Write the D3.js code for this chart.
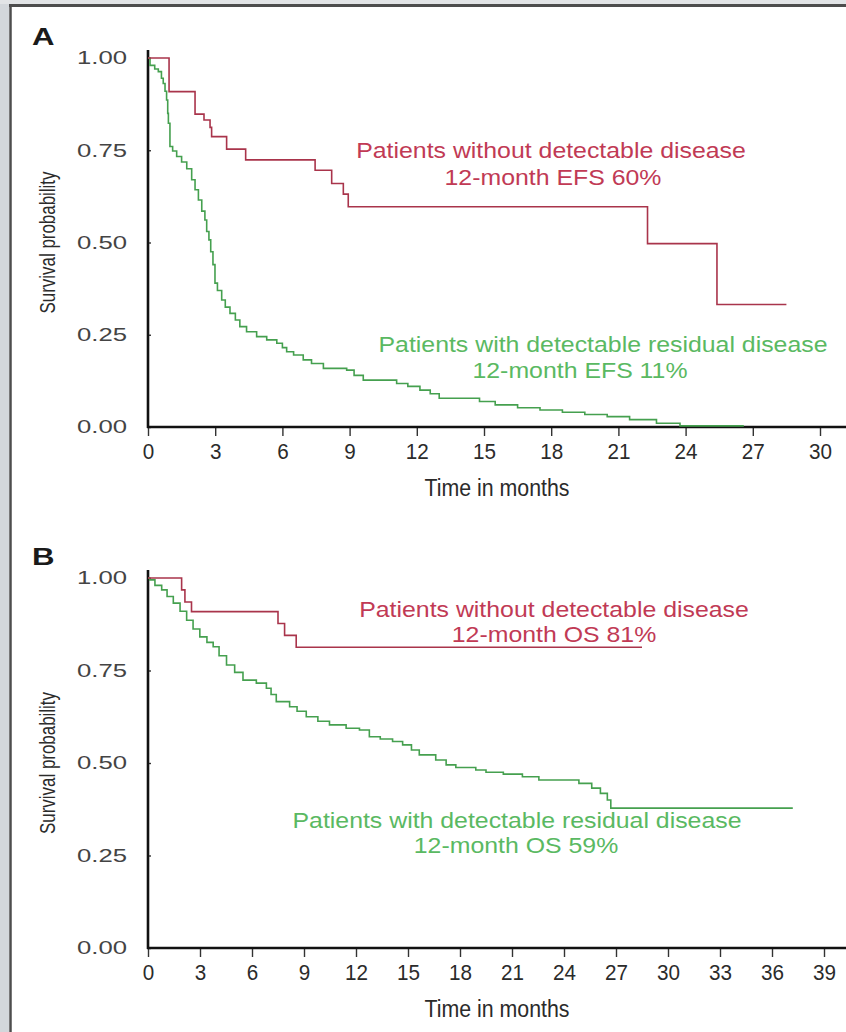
<!DOCTYPE html>
<html>
<head>
<meta charset="utf-8">
<script src="https://cdn.jsdelivr.net/npm/d3@7"></script>
<style>
  body { margin: 0; background: #fff; }
</style>
</head>
<body>
<div id="chart"></div>
<script>
// Panel A: event-free survival, patients without detectable disease (red)
const efsNegTime = [0, 0.94, 2.10, 2.50, 2.77, 2.84, 3.51, 4.36, 7.46, 8.20, 8.72, 8.94, 22.3, 25.4, 28.5];
const efsNegSurv = [1, 0.909, 0.848, 0.832, 0.812, 0.787, 0.753, 0.724, 0.696, 0.660, 0.631, 0.597, 0.497, 0.332, 0.332];

// Panel A: event-free survival, patients with detectable residual disease (green)
const efsPosTime = [0, 0.09, 0.3, 0.46, 0.6, 0.68, 0.76, 0.83, 0.88, 0.91, 0.98, 1.1, 1.28, 1.5, 1.73, 1.95,
    2.1, 2.25, 2.4, 2.54, 2.62, 2.72, 2.8, 2.9, 2.99, 3.1, 3.29, 3.45, 3.66, 3.9, 4.1, 4.4, 4.85, 5.3,
    5.75, 6.0, 6.19, 6.5, 6.93, 7.3, 7.83, 8.87, 9.2, 9.61, 11.1, 11.6, 12.14, 12.6, 13.0, 14.8, 15.5,
    16.5, 17.5, 18.5, 19.5, 20.5, 21.5, 22.7, 23.75, 26.6];
const efsPosSurv = [1, 0.98, 0.97, 0.963, 0.945, 0.931, 0.91, 0.886, 0.85, 0.823, 0.76, 0.748, 0.733, 0.718, 0.70, 0.67,
    0.643, 0.615, 0.585, 0.561, 0.53, 0.507, 0.475, 0.44, 0.39, 0.37, 0.344, 0.325, 0.308, 0.29, 0.272, 0.258, 0.245, 0.236,
    0.227, 0.215, 0.204, 0.195, 0.182, 0.172, 0.159, 0.154, 0.14, 0.127, 0.118, 0.11, 0.10, 0.09, 0.078, 0.069, 0.06,
    0.052, 0.046, 0.04, 0.034, 0.028, 0.02, 0.01, 0.003, 0.003];

// Panel B: overall survival, patients without detectable disease (red)
const osNegTime = [0, 1.94, 2.13, 2.51, 7.5, 7.88, 8.55, 28.5];
const osNegSurv = [1, 0.968, 0.935, 0.909, 0.877, 0.845, 0.813, 0.813];

// Panel B: overall survival, patients with detectable residual disease (green)
const osPosTime = [0, 0.1, 0.4, 0.79, 1.1, 1.46, 1.85, 2.23, 2.6, 2.99, 3.4, 3.76, 4.1, 4.53, 5.0, 5.48, 6.25,
    6.83, 7.1, 7.4, 8.17, 8.6, 9.13, 9.8, 10.47, 11.43, 12.2, 12.77, 13.4, 14.11, 14.69, 15.2, 15.65, 16.6,
    17.2, 17.76, 18.91, 19.5, 20.5, 21.6, 22.55, 24.86, 25.6, 26.1, 26.5, 26.7, 37.2];
const osPosSurv = [1, 0.995, 0.98, 0.968, 0.95, 0.932, 0.91, 0.886, 0.862, 0.841, 0.826, 0.814, 0.79, 0.765, 0.745, 0.724, 0.716,
    0.702, 0.685, 0.666, 0.652, 0.64, 0.625, 0.613, 0.603, 0.594, 0.589, 0.571, 0.565, 0.558, 0.549, 0.535, 0.522, 0.508,
    0.495, 0.488, 0.481, 0.475, 0.47, 0.463, 0.454, 0.445, 0.432, 0.418, 0.40, 0.378, 0.378];

// Tick values
const survTicks = [0, 0.25, 0.5, 0.75, 1];
const efsTicks = [0, 3, 6, 9, 12, 15, 18, 21, 24, 27, 30];
const osTicks = [0, 3, 6, 9, 12, 15, 18, 21, 24, 27, 30, 33, 36, 39];

// Annotation text
const efsNegLabel = ["Patients without detectable disease", "12-month EFS 60%"];
const efsPosLabel = ["Patients with detectable residual disease", "12-month EFS 11%"];
const osNegLabel = ["Patients without detectable disease", "12-month OS 81%"];
const osPosLabel = ["Patients with detectable residual disease", "12-month OS 59%"];

const redLine = "#a9344b", greenLine = "#45a04f";
const redText = "#c13a55", greenText = "#5ab962";
const labelFont = "'Liberation Sans', Arial, sans-serif";

const width = 846, height = 1032;

const svg = d3.select("#chart")
    .append("svg")
    .attr("width", width)
    .attr("height", height);

// page frame
svg.append("rect").attr("width", width).attr("height", height).attr("fill", "#fff");
svg.append("rect").attr("width", 9).attr("height", height).attr("fill", "#d3d7db");
svg.append("rect").attr("width", width).attr("height", 4).attr("fill", "#e2e4e6");
svg.append("line")
    .attr("x1", 10.5).attr("x2", 10.5).attr("y1", 4).attr("y2", height)
    .attr("stroke", "#4d4d4d").attr("stroke-width", 2.5);
svg.append("line")
    .attr("x1", 9).attr("x2", width).attr("y1", 5.5).attr("y2", 5.5)
    .attr("stroke", "#4d4d4d").attr("stroke-width", 3);

function drawPanel(p) {
    const x = d3.scaleLinear().domain([0, p.xMax]).range([148, p.xEnd]);
    const y = d3.scaleLinear().domain([0, 1]).range([p.y0, p.y1]);

    // panel letter
    svg.append("g")
        .attr("transform", `translate(32,${p.y1 - 13}) scale(1.3,1)`)
        .append("text")
        .style("font-family", labelFont)
        .style("font-weight", "bold")
        .style("font-size", "24px")
        .attr("fill", "#1a1a1a")
        .text(p.letter);

    // y axis
    const yAxis = svg.append("g")
        .attr("transform", "translate(148,0)")
        .call(d3.axisLeft(y).tickValues(survTicks).tickFormat(d3.format(".2f"))
            .tickSizeInner(11).tickSizeOuter(0).tickPadding(10));
    yAxis.select(".domain").remove();
    yAxis.selectAll(".tick line").attr("x2", 3).attr("stroke", "#333").attr("stroke-width", 1.4);
    yAxis.selectAll(".tick text")
        .style("font-family", labelFont)
        .style("font-size", "18px")
        .attr("fill", "#444")
        .attr("textLength", 50)
        .attr("lengthAdjust", "spacingAndGlyphs");

    // x axis, condensed labels
    const xAxis = svg.append("g")
        .attr("transform", `translate(0,${p.y0})`)
        .call(d3.axisBottom(x).tickValues(p.ticks).tickSizeInner(9).tickSizeOuter(0).tickPadding(7));
    xAxis.select(".domain").remove();
    xAxis.selectAll(".tick line").attr("stroke", "#333").attr("stroke-width", 1.4);
    xAxis.selectAll(".tick text")
        .style("font-family", labelFont)
        .style("font-size", "22px")
        .attr("fill", "#2b2b2b")
        .attr("textLength", d => String(d).length * 11.5)
        .attr("lengthAdjust", "spacingAndGlyphs");

    // axis lines
    svg.append("line")
        .attr("x1", 148).attr("x2", 148).attr("y1", p.y1 - 8).attr("y2", p.y0 + 1)
        .attr("stroke", "#111").attr("stroke-width", 2.6);
    svg.append("line")
        .attr("x1", 147).attr("x2", width).attr("y1", p.y0).attr("y2", p.y0)
        .attr("stroke", "#111").attr("stroke-width", 2.6);

    // axis titles
    svg.append("text")
        .attr("transform", `translate(55,${(p.y0 + p.y1) / 2}) rotate(-90)`)
        .style("text-anchor", "middle")
        .style("font-family", labelFont)
        .style("font-size", "22px")
        .attr("fill", "#2b2b2b")
        .attr("textLength", 142)
        .attr("lengthAdjust", "spacingAndGlyphs")
        .text("Survival probability");

    svg.append("text")
        .attr("x", 497)
        .attr("y", p.y0 + 69)
        .style("text-anchor", "middle")
        .style("font-family", labelFont)
        .style("font-size", "23px")
        .attr("fill", "#2b2b2b")
        .attr("textLength", 145)
        .attr("lengthAdjust", "spacingAndGlyphs")
        .text("Time in months");

    // survival curves
    const line = d3.line()
        .x(d => x(d.t))
        .y(d => y(d.s))
        .curve(d3.curveStepAfter);

    p.curves.forEach(c => {
        const data = c.time.map((t, i) => ({t: t, s: c.surv[i]}));
        svg.append("path")
            .datum(data)
            .attr("fill", "none")
            .attr("stroke", c.color)
            .attr("stroke-width", 1.6)
            .attr("d", line);
    });

    // annotations
    p.notes.forEach(n => {
        n.lines.forEach((txt, i) => {
            svg.append("g")
                .attr("transform", `translate(${n.cx[i]},${n.base[i]}) scale(1.13,1)`)
                .append("text")
                .style("text-anchor", "middle")
                .style("font-family", labelFont)
                .style("font-size", "22px")
                .attr("fill", n.color)
                .text(txt);
        });
    });
}

drawPanel({
    letter: "A", xMax: 30, xEnd: 820, y0: 427, y1: 58, ticks: efsTicks,
    curves: [
        {time: efsPosTime, surv: efsPosSurv, color: greenLine},
        {time: efsNegTime, surv: efsNegSurv, color: redLine}
    ],
    notes: [
        {lines: efsNegLabel, cx: [551, 553], base: [158, 185], color: redText},
        {lines: efsPosLabel, cx: [603, 580], base: [352, 378], color: greenText}
    ]
});

drawPanel({
    letter: "B", xMax: 39, xEnd: 824, y0: 948, y1: 578, ticks: osTicks,
    curves: [
        {time: osPosTime, surv: osPosSurv, color: greenLine},
        {time: osNegTime, surv: osNegSurv, color: redLine}
    ],
    notes: [
        {lines: osNegLabel, cx: [554, 554], base: [617, 642], color: redText},
        {lines: osPosLabel, cx: [517, 516], base: [828, 853], color: greenText}
    ]
});
</script>
</body>
</html>
